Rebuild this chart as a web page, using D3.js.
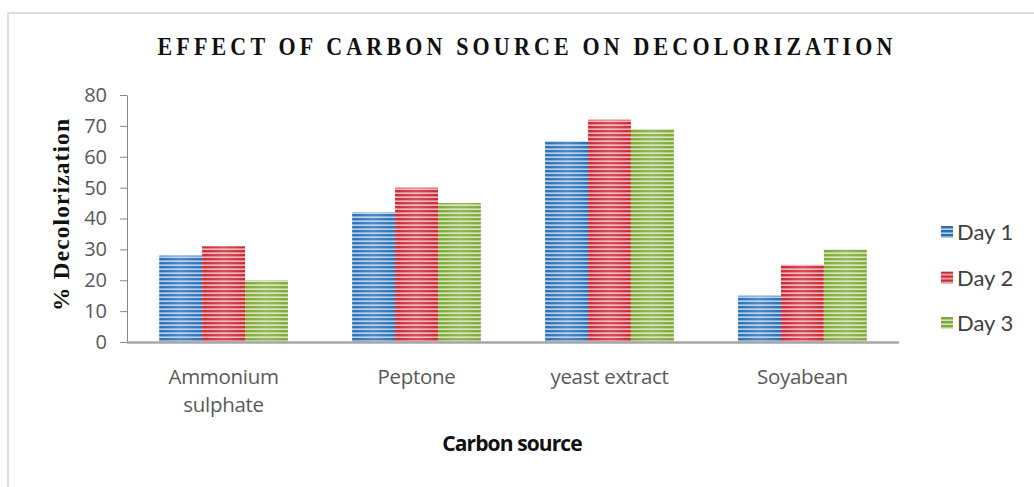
<!DOCTYPE html>
<html>
<head>
<meta charset="utf-8">
<script src="https://cdn.jsdelivr.net/npm/d3@7"></script>
<style>
  html, body { margin: 0; padding: 0; background: #ffffff; }
  svg { display: block; }
</style>
</head>
<body>
<div id="chart"></div>
<script>
// Decolorization (%) by carbon source, measured on three days
const categories = [["Ammonium", "sulphate"], ["Peptone"], ["yeast extract"], ["Soyabean"]];
const seriesNames = ["Day 1", "Day 2", "Day 3"];
const day1 = [28, 42, 65, 15];
const day2 = [31, 50, 72, 25];
const day3 = [20, 45, 69, 30];
const yTicks = [0, 10, 20, 30, 40, 50, 60, 70, 80];

const seriesValues = [day1, day2, day3];
const dark = ["#2a70b8", "#cc2a36", "#7fa83a"];
const light = ["#b4d0ec", "#f4b4ba", "#d6e6b4"];

const W = 1034, H = 487;
const svg = d3.select("#chart").append("svg").attr("width", W).attr("height", H);

// outer frame
svg.append("rect").attr("x", 8).attr("y", 13).attr("width", W + 20).attr("height", H + 20)
  .attr("fill", "#fff").attr("stroke", "#d4d4d4").attr("stroke-width", 1.5);

// striped fills for the bars
const defs = svg.append("defs");
seriesNames.forEach((s, i) => {
  const p = defs.append("pattern").attr("id", "stripe" + i)
    .attr("patternUnits", "userSpaceOnUse").attr("width", 8).attr("height", 4)
    .attr("y", 2);
  p.append("rect").attr("width", 8).attr("height", 4).attr("fill", dark[i]);
  p.append("rect").attr("y", 2.4).attr("width", 8).attr("height", 1.6).attr("fill", light[i]);
});
// soft sheen across each bar
const sheen = defs.append("linearGradient").attr("id", "sheen").attr("x1", 0).attr("x2", 1).attr("y1", 0).attr("y2", 0);
sheen.append("stop").attr("offset", "0%").attr("stop-color", "#fff").attr("stop-opacity", 0);
sheen.append("stop").attr("offset", "50%").attr("stop-color", "#fff").attr("stop-opacity", 0.18);
sheen.append("stop").attr("offset", "100%").attr("stop-color", "#fff").attr("stop-opacity", 0);

const x0 = d3.scaleBand().domain(d3.range(categories.length)).range([127, 899])
  .paddingInner(0.333).paddingOuter(0.167);
const x1 = d3.scaleBand().domain(d3.range(seriesNames.length)).range([0, x0.bandwidth()]);
const y = d3.scaleLinear().domain([0, 80]).range([342, 95]);

// title: tall, tracked serif capitals
svg.append("text").attr("transform", "translate(525,55) scale(1,1.1)").attr("text-anchor", "middle")
  .attr("font-family", "Liberation Serif, serif").attr("font-weight", "bold")
  .attr("font-size", 22).attr("fill", "#111")
  .attr("textLength", 735).attr("lengthAdjust", "spacing")
  .text("EFFECT OF CARBON SOURCE ON DECOLORIZATION");

// bars
const groups = svg.append("g").selectAll("g").data(categories).join("g")
  .attr("transform", (d, i) => `translate(${x0(i)},0)`);
groups.each(function (d, ci) {
  const g = d3.select(this);
  seriesValues.forEach((vals, si) => {
    const bx = x1(si), by = y(vals[ci]), bh = y(0) - y(vals[ci]);
    g.append("rect").attr("x", bx).attr("y", by).attr("width", x1.bandwidth()).attr("height", bh)
      .attr("fill", `url(#stripe${si})`);
    g.append("rect").attr("x", bx).attr("y", by).attr("width", x1.bandwidth()).attr("height", bh)
      .attr("fill", "url(#sheen)");
  });
});

// y axis
const yAxis = svg.append("g").attr("transform", "translate(127,0)")
  .call(d3.axisLeft(y).tickValues(yTicks).tickSize(7).tickPadding(13).tickSizeOuter(0));
yAxis.select(".domain").attr("stroke", "#868686");
yAxis.selectAll(".tick line").attr("stroke", "#868686");
yAxis.selectAll(".tick text").attr("font-family", "Open Sans, sans-serif")
  .attr("font-size", 20).attr("fill", "#595959");

// x axis baseline
svg.append("line").attr("x1", 127).attr("x2", 899).attr("y1", y(0) + 0.5).attr("y2", y(0) + 0.5)
  .attr("stroke", "#a6a6a6").attr("stroke-width", 2.5);

// category labels
const catText = svg.append("g").selectAll("text").data(categories).join("text")
  .attr("x", (d, i) => x0(i) + x0.bandwidth() / 2).attr("y", 384)
  .attr("text-anchor", "middle").attr("font-family", "Open Sans, sans-serif")
  .attr("font-size", 20.5).attr("fill", "#595959").attr("letter-spacing", -0.3);
catText.selectAll("tspan").data(d => d).join("tspan")
  .attr("x", function () { return d3.select(this.parentNode).attr("x"); })
  .attr("dy", (d, i) => i === 0 ? 0 : 28).text(d => d);

// axis titles
svg.append("text").attr("x", 512).attr("y", 451).attr("text-anchor", "middle")
  .attr("font-family", "Open Sans, sans-serif").attr("font-weight", "bold")
  .attr("font-size", 21).attr("fill", "#111").attr("letter-spacing", -0.9)
  .text("Carbon source");
svg.append("text").attr("transform", "translate(69,215) rotate(-90)").attr("text-anchor", "middle")
  .attr("font-family", "Liberation Serif, serif").attr("font-weight", "bold")
  .attr("font-size", 23.5).attr("fill", "#111")
  .attr("textLength", 192).attr("lengthAdjust", "spacing")
  .text("%  Decolorization");

// legend
const legend = svg.append("g").selectAll("g").data(seriesNames).join("g")
  .attr("transform", (d, i) => `translate(941,${232 + i * 45.5})`);
legend.append("rect").attr("x", 0).attr("y", -6).attr("width", 12).attr("height", 12)
  .attr("fill", (d, i) => `url(#stripe${i})`);
legend.append("text").attr("x", 16).attr("y", 8).attr("font-family", "Lato, sans-serif")
  .attr("font-size", 22).attr("fill", "#404040").text(d => d);
</script>
</body>
</html>
